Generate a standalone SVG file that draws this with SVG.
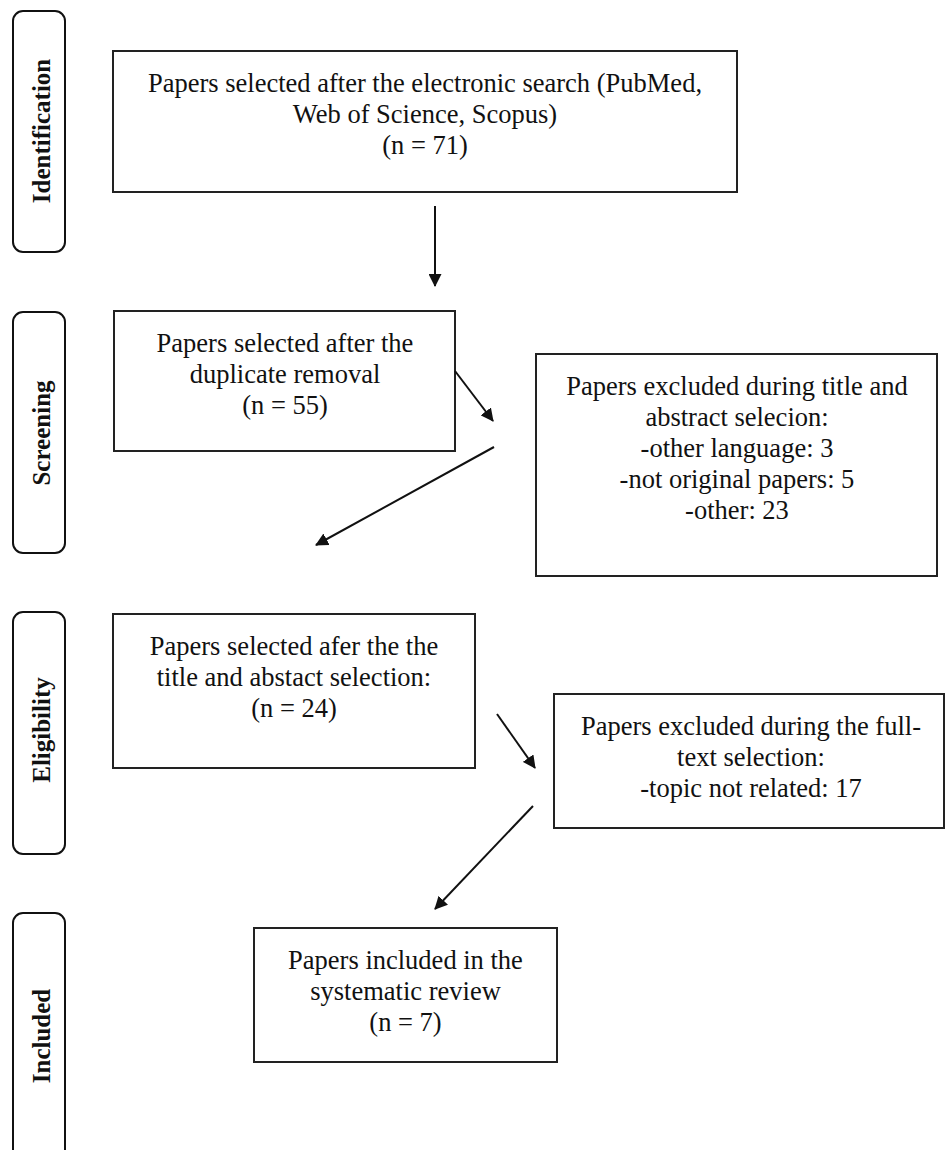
<svg xmlns="http://www.w3.org/2000/svg" width="945" height="1150" viewBox="0 0 945 1150">
<defs>
<style>
.lab{fill:#fff;stroke:#111;stroke-width:2}
.labt{font-family:"Liberation Serif","Times New Roman",serif;font-weight:bold;font-size:25px;fill:#111;text-anchor:middle}
.box{fill:#fff;stroke:#222;stroke-width:2}
.t{font-family:"Liberation Serif","Times New Roman",serif;font-size:26.5px;fill:#111;text-anchor:middle}
.c{stroke:#111;stroke-width:2;fill:none;marker-end:url(#ah)}
</style>
<marker id="ah" viewBox="0 0 13 13" refX="12" refY="6.5" markerWidth="13" markerHeight="13" orient="auto" markerUnits="userSpaceOnUse">
<path d="M0,0 L13,6.5 L0,13 z" fill="#111"/>
</marker>
</defs>
<rect width="945" height="1150" fill="#fff"/>

<g id="stage-identification">
<rect class="lab" x="13" y="11" width="52" height="241" rx="10"/>
<text class="labt" transform="translate(50,131) rotate(-90)">Identification</text>
</g>
<g id="stage-screening">
<rect class="lab" x="13" y="312" width="52" height="241" rx="10"/>
<text class="labt" transform="translate(50,433) rotate(-90)">Screening</text>
</g>
<g id="stage-eligibility">
<rect class="lab" x="13" y="612" width="52" height="242" rx="10"/>
<text class="labt" transform="translate(50,730) rotate(-90)">Eligibility</text>
</g>
<g id="stage-included">
<rect class="lab" x="13" y="913" width="52" height="260" rx="10"/>
<text class="labt" transform="translate(50,1036) rotate(-90)">Included</text>
</g>

<g id="node-identified">
<rect class="box" x="113" y="51" width="624" height="141"/>
<text class="t" x="425" y="92">Papers selected after the electronic search (PubMed,</text>
<text class="t" x="425" y="123">Web of Science, Scopus)</text>
<text class="t" x="425" y="154">(n = 71)</text>
</g>
<g id="node-dedup">
<rect class="box" x="114" y="311" width="341" height="140"/>
<text class="t" x="285" y="352">Papers selected after the</text>
<text class="t" x="285" y="383">duplicate removal</text>
<text class="t" x="285" y="414">(n = 55)</text>
</g>
<g id="node-excluded-screening">
<rect class="box" x="536" y="354" width="401" height="222"/>
<text class="t" x="737" y="395">Papers excluded during title and</text>
<text class="t" x="737" y="426">abstract selecion:</text>
<text class="t" x="737" y="457">-other language: 3</text>
<text class="t" x="737" y="488">-not original papers: 5</text>
<text class="t" x="737" y="519">-other: 23</text>
</g>
<g id="node-eligible">
<rect class="box" x="113" y="614" width="362" height="154"/>
<text class="t" x="294" y="655">Papers selected afer the the</text>
<text class="t" x="294" y="686">title and abstact selection:</text>
<text class="t" x="294" y="717">(n = 24)</text>
</g>
<g id="node-excluded-fulltext">
<rect class="box" x="554" y="694" width="390" height="134"/>
<text class="t" x="751" y="735">Papers excluded during the full-</text>
<text class="t" x="751" y="766">text selection:</text>
<text class="t" x="751" y="797">-topic not related: 17</text>
</g>
<g id="node-included">
<rect class="box" x="254" y="928" width="303" height="134"/>
<text class="t" x="405.5" y="969">Papers included in the</text>
<text class="t" x="405.5" y="1000">systematic review</text>
<text class="t" x="405.5" y="1031">(n = 7)</text>
</g>

<g id="connectors">
<line class="c" x1="435" y1="206" x2="435" y2="286"/>
<line class="c" x1="455" y1="371" x2="493" y2="421"/>
<line class="c" x1="494" y1="447" x2="316" y2="545"/>
<line class="c" x1="497" y1="714" x2="535" y2="768"/>
<line class="c" x1="533" y1="806" x2="435" y2="909"/>
</g>
</svg>
